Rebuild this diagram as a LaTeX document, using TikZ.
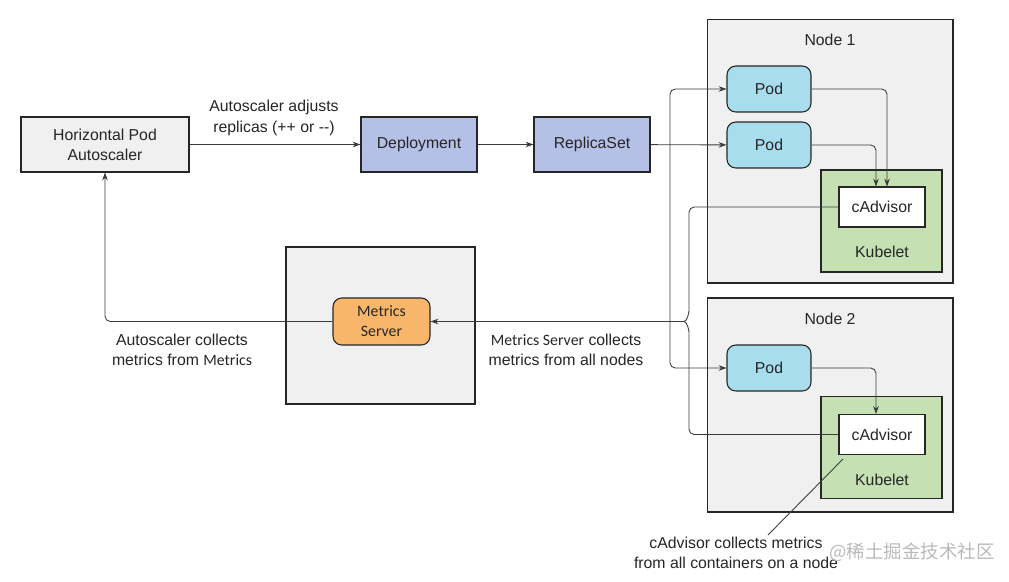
\documentclass[tikz,border=0pt]{standalone}
\usepackage{fontspec}
\setmainfont{Liberation Sans}
\newfontfamily\calfont{Carlito}
\newfontfamily\cjkfont{Noto Sans CJK SC}
\usetikzlibrary{arrows.meta}

\definecolor{boxgray}{HTML}{F0F0F0}
\definecolor{deployblue}{HTML}{B4C0E6}
\definecolor{podblue}{HTML}{A8DDED}
\definecolor{kubegreen}{HTML}{C5E0B3}
\definecolor{msorange}{HTML}{F7B66A}
\definecolor{linegray}{HTML}{3C3C3C}

\begin{document}
\begin{tikzpicture}[
    x=0.02cm, y=-0.02cm,
    font=\fontsize{9}{11.5}\selectfont,
    box/.style={draw=black!85, line width=0.6pt, inner sep=0pt, align=center, text=black!85},
    hostbox/.style={box, fill=boxgray},
    ctrl/.style={box, fill=deployblue, minimum width=2.32cm, minimum height=1.1cm},
    pod/.style={box, fill=podblue, rounded corners=5pt, minimum width=1.68cm, minimum height=0.92cm},
    kubelet/.style={box, fill=kubegreen, minimum width=2.42cm, minimum height=2.04cm},
    cadvisor/.style={box, fill=white, minimum width=1.72cm, minimum height=0.8cm},
    flow/.style={draw=linegray, line width=0.5pt, rounded corners=3pt, -{Stealth[length=4.5pt,width=3.2pt]}},
    link/.style={draw=linegray, line width=0.5pt, rounded corners=3pt},
    note/.style={align=center, text=black!85}
  ]
  \useasboundingbox (0,0) rectangle (1009,582);

  % Autoscaler and controllers
  \node[box, fill=boxgray, minimum width=3.36cm, minimum height=1.1cm] (hpa) at (105,144.5) {Horizontal Pod\\Autoscaler};
  \node[ctrl] (deploy) at (419,144.5) {Deployment};
  \node[ctrl] (rs) at (592,144.5) {ReplicaSet};

  % Metrics Server host
  \node[hostbox, minimum width=3.78cm, minimum height=3.14cm] (msbox) at (380.5,325.5) {};
  \node[box, fill=msorange, rounded corners=5pt, minimum width=1.94cm, minimum height=0.94cm,
        font=\calfont\fontsize{9}{11.5}\selectfont] (ms) at (381.5,321.5) {Metrics\\Server};

  % Node 1
  \node[hostbox, minimum width=4.92cm, minimum height=5.28cm] (node1) at (830,151) {};
  \node[note] (node1lbl) at (830,40) {Node 1};
  \node[pod] (pod1a) at (769,89) {Pod};
  \node[pod] (pod1b) at (769,145) {Pod};
  \node[kubelet] (kub1) at (881.5,221) {};
  \node[note] (kub1lbl) at (882,252) {Kubelet};
  \node[cadvisor] (cadv1) at (882,207) {cAdvisor};

  % Node 2
  \node[hostbox, minimum width=4.92cm, minimum height=4.28cm] (node2) at (830,405) {};
  \node[note] (node2lbl) at (830,319) {Node 2};
  \node[pod] (pod2) at (769,368) {Pod};
  \node[kubelet] (kub2) at (881.5,447.5) {};
  \node[note] (kub2lbl) at (882,480) {Kubelet};
  \node[cadvisor] (cadv2) at (882,434.5) {cAdvisor};

  % Scaling path
  \draw[flow] (hpa) -- (deploy);
  \draw[flow] (deploy) -- (rs);
  \draw[flow] (rs) -- (pod1b);
  \coordinate (split) at (670,145);
  \draw[flow] (split) |- (pod1a.west);
  \draw[flow] (split) |- (pod2.west);

  % Pods to cAdvisor
  \draw[flow] (pod1a.east) -| ([xshift=0.1cm]cadv1.north);
  \draw[flow] (pod1b.east) -| ([xshift=-0.12cm]cadv1.north);
  \draw[flow] (pod2.east) -| ([xshift=-0.12cm]cadv2.north);

  % cAdvisors to Metrics Server
  \coordinate (join) at (684,321.5);
  \draw[link] (cadv1.west) -- (689,207) -- (689,316) to[out=90,in=0] (join);
  \draw[link] (cadv2.west) -- (689,434.5) -- (689,327) to[out=-90,in=0] (join);
  \draw[flow] (join) -- (join -| ms.east);

  % Metrics Server to Autoscaler
  \draw[flow] (ms.west) -| (hpa.south);

  % Callout for cAdvisor
  \coordinate (c2tip) at (843,459);
  \coordinate (notetip) at (768,535);
  \draw[draw=linegray, line width=0.5pt] (c2tip) -- (notetip);

  % Labels
  \node[note] (adjust) at (274,118) {Autoscaler adjusts\\replicas (++ or {-}{-})};
  \node[note] (collect) at (182,350) {Autoscaler collects\\metrics from {\calfont Metrics}};
  \node[note] (gather) at (566,350) {{\calfont Metrics Server} collects\\metrics from all nodes};
  \node[note] (cnote) at (736,553) {cAdvisor collects metrics\\from all containers on a node};
  \node[text=gray!55, font=\cjkfont\fontsize{10.5}{12}\selectfont] (mark) at (912,552) {@稀土掘金技术社区};

\end{tikzpicture}
\end{document}
